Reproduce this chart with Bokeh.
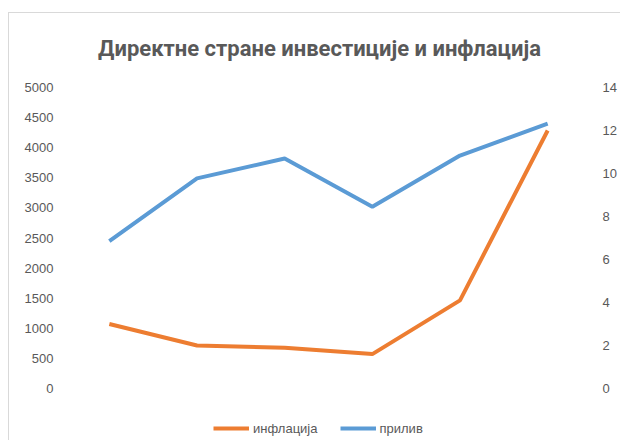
from bokeh.plotting import figure
from bokeh.models import Range1d, LinearAxis, FixedTicker, Legend, LegendItem, ColumnDataSource, Label
from bokeh.embed import file_html
from bokeh.resources import INLINE

points = [1, 2, 3, 4, 5, 6]
priliv = [2450, 3490, 3820, 3020, 3870, 4400]
inflacija = [3.0, 2.0, 1.9, 1.6, 4.1, 12.0]
left_ticks = [0, 500, 1000, 1500, 2000, 2500, 3000, 3500, 4000, 4500, 5000]
right_ticks = [0, 2, 4, 6, 8, 10, 12, 14]
title_text = "Директне стране инвестиције и инфлација"

GRAY = "#595959"
FONT = "Liberation Sans"

# layout: data area is 301 px tall; 74 px above it hold the title, 53 px below it the legend
FIG_H = 428
DATA_H = 301
TOP_H = 74
LEGEND_H = 53
left_max, right_max = 5000, 14
left_lo = -left_max * LEGEND_H / DATA_H
left_hi = left_max + left_max * TOP_H / DATA_H
right_lo = -right_max * LEGEND_H / DATA_H
right_hi = right_max + right_max * TOP_H / DATA_H

p = figure(width=612, height=FIG_H, output_backend="svg", toolbar_location=None,
           x_range=Range1d(0.5, 6.5), y_range=Range1d(left_lo, left_hi),
           min_border_left=56, min_border_right=30, min_border_top=0, min_border_bottom=0)
p.styles = {"margin-left": "8px", "margin-top": "12px",
            "border-top": "1px solid #d9d9d9", "border-left": "1px solid #d9d9d9"}
p.extra_y_ranges = {"infl": Range1d(right_lo, right_hi)}

p.outline_line_color = None
p.grid.visible = False
p.xaxis.visible = False
p.background_fill_color = "white"
p.border_fill_color = "white"

ya = p.yaxis[0]
ya.ticker = FixedTicker(ticks=left_ticks)
ya.axis_line_color = None
ya.major_tick_line_color = None
ya.minor_tick_line_color = None
ya.major_label_text_font = FONT
ya.major_label_text_font_size = "13px"
ya.major_label_text_color = GRAY
ya.major_label_standoff = 6

ra = LinearAxis(y_range_name="infl", ticker=FixedTicker(ticks=right_ticks))
ra.axis_line_color = None
ra.major_tick_line_color = None
ra.minor_tick_line_color = None
ra.major_label_text_font = FONT
ra.major_label_text_font_size = "13px"
ra.major_label_text_color = GRAY
ra.major_label_standoff = 5
p.add_layout(ra, "right")

src = ColumnDataSource(dict(x=points, priliv=priliv, infl=inflacija))
r_inf = p.line("x", "infl", source=src, y_range_name="infl", line_color="#ED7D31", line_width=4)
r_pri = p.line("x", "priliv", source=src, line_color="#5B9BD5", line_width=4)

title = Label(x=3.5, y=FIG_H - 35, x_units="data", y_units="screen", x_offset=-9,
              text=title_text, text_align="center", text_baseline="middle",
              text_font="Roboto", text_font_size="22px", text_font_style="bold",
              text_color=GRAY)
p.add_layout(title)

legend = Legend(items=[LegendItem(label="инфлација", renderers=[r_inf]),
                       LegendItem(label="прилив", renderers=[r_pri])],
                orientation="horizontal", location=(148, 3),
                label_text_font=FONT, label_text_font_size="13px", label_text_color=GRAY,
                glyph_width=36, spacing=22, border_line_color=None, background_fill_alpha=0,
                label_standoff=4, padding=4, margin=0)
p.add_layout(legend)

open("out.html", "w").write(file_html(p, INLINE))
